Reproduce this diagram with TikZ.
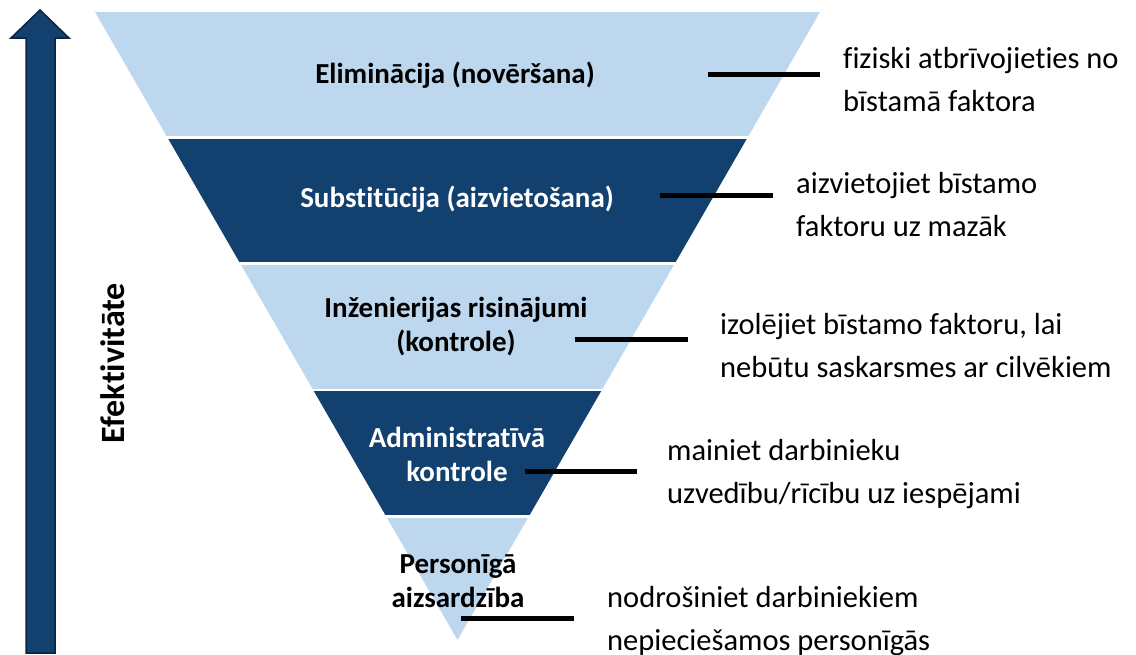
\documentclass[tikz,border=0pt]{standalone}
\usepackage{fontspec}
\setmainfont{Carlito}[Ligatures=NoCommon]
\usetikzlibrary{positioning}
\definecolor{lightband}{HTML}{BDD7EE}
\definecolor{darkband}{HTML}{12406F}
\definecolor{arrowline}{HTML}{0B2340}
\tikzstyle{lb} = [font=\fontsize{29}{34}\selectfont\bfseries, align=center,
    text=black, inner sep=0pt]
\tikzstyle{db} = [lb, text=white]
\tikzstyle{note} = [font=\fontsize{30.5}{43}\selectfont, align=left,
    anchor=west, inner sep=0pt]
\tikzstyle{lead} = [line width=5pt, black]

\begin{document}
\begin{tikzpicture}[x=1pt,y=-1pt]
  \useasboundingbox (0,0) rectangle (1136,654);

  % effectiveness arrow
  \draw[fill=darkband, draw=arrowline, line width=1.5pt, line join=miter]
    (40,10) -- (69,38) -- (55,38) -- (55,653) -- (26,653) -- (26,38)
    -- (11,38) -- cycle;
  \node[lb, font=\fontsize{34}{40}\selectfont\bfseries, rotate=90] (eff)
    at (113,363) {Efektivitāte};

  % inverted triangle, cut into bands
  \begin{scope}
    \clip (95,12) -- (820,12) -- (457.5,640) -- cycle;
    \fill[lightband] (0,12) rectangle (1136,136);
    \fill[darkband] (0,138.5) rectangle (1136,262);
    \fill[lightband] (0,264.5) rectangle (1136,388.5);
    \fill[darkband] (0,391) rectangle (1136,515);
    \fill[lightband] (0,517.5) rectangle (1136,640);
  \end{scope}

  \node[lb] (elim)  at (455,75)  {Eliminācija (novēršana)};
  \node[db] (subst) at (457,199) {Substitūcija (aizvietošana)};
  \node[lb] (eng)   at (456,327) {Inženierijas risinājumi\\(kontrole)};
  \node[db] (adm)   at (457,454) {Administratīvā\\kontrole};
  \node[lb] (ppe)   at (458,581) {Personīgā\\aizsardzība};

  % explanations
  \node[note] (t1) at (843,80)  {fiziski atbrīvojieties no\\bīstamā faktora};
  \node[note] (t2) at (796,205) {aizvietojiet bīstamo\\faktoru uz mazāk};
  \node[note] (t3) at (720,346) {izolējiet bīstamo faktoru, lai\\nebūtu saskarsmes ar cilvēkiem};
  \node[note] (t4) at (667,474) {mainiet darbinieku\\uzvedību/rīcību uz iespējami};
  \node[note] (t5) at (607,621) {nodrošiniet darbiniekiem\\nepieciešamos personīgās};

  \coordinate (a1) at (708,74);  \coordinate (b1) at (820,74);
  \coordinate (a2) at (660,195); \coordinate (b2) at (773,195);
  \coordinate (a3) at (575,339); \coordinate (b3) at (688,339);
  \coordinate (a4) at (525,471); \coordinate (b4) at (637,471);
  \coordinate (a5) at (461,618); \coordinate (b5) at (574,618);
  \foreach \i in {1,...,5}
    \draw[lead] (a\i) -- (b\i);
\end{tikzpicture}
\end{document}
